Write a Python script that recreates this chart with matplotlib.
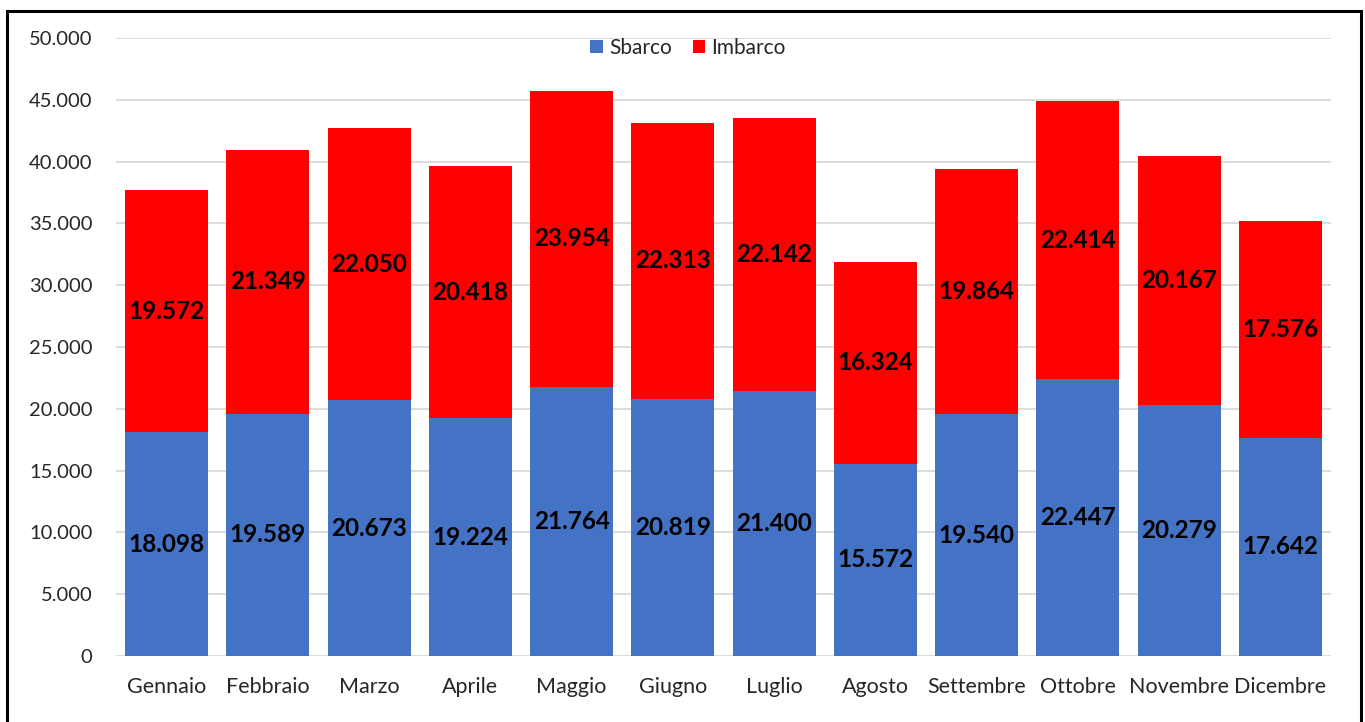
import matplotlib.pyplot as plt
import numpy as np
from matplotlib.patches import Rectangle
from matplotlib.ticker import FuncFormatter

plt.rcParams['font.family'] = ['Lato', 'DejaVu Sans']

mesi = ["Gennaio", "Febbraio", "Marzo", "Aprile", "Maggio", "Giugno",
        "Luglio", "Agosto", "Settembre", "Ottobre", "Novembre", "Dicembre"]
sbarco = [18098, 19589, 20673, 19224, 21764, 20819, 21400, 15572, 19540, 22447, 20279, 17642]
imbarco = [19572, 21349, 22050, 20418, 23954, 22313, 22142, 16324, 19864, 22414, 20167, 17576]


def fmt(v):
    # italian thousands separator
    return f"{int(v):,}".replace(",", ".")


fig = plt.figure(figsize=(13.65, 7.22), dpi=100)
ax = fig.add_axes([0.085, 0.0914, 0.89, 0.856])

x = np.arange(len(mesi))
ax.bar(x, sbarco, width=0.82, color="#4472C4", label="Sbarco", zorder=2)
ax.bar(x, imbarco, width=0.82, bottom=sbarco, color="#FF0000", label="Imbarco", zorder=2)

for i in range(len(mesi)):
    ax.text(x[i], sbarco[i] / 2, fmt(sbarco[i]), ha="center", va="center",
            fontsize=17.5, fontweight="bold", color="black", zorder=3)
    ax.text(x[i], sbarco[i] + imbarco[i] / 2, fmt(imbarco[i]), ha="center", va="center",
            fontsize=17.5, fontweight="bold", color="black", zorder=3)

ax.set_xlim(-0.5, len(mesi) - 0.5)
ax.set_ylim(0, 50000)
ax.set_yticks(np.arange(0, 50001, 5000))
ax.yaxis.set_major_formatter(FuncFormatter(lambda v, p: fmt(v)))
ax.set_xticks(x)
ax.set_xticklabels(mesi)
ax.tick_params(axis="both", length=0, colors="#262626")
ax.tick_params(axis="x", pad=15, labelsize=15.5)
ax.tick_params(axis="y", pad=17, labelsize=14.5)
ax.grid(axis="y", color="#D9D9D9", linewidth=1.3, zorder=0)
for s in ax.spines.values():
    s.set_visible(False)

ax.legend(loc="upper center", bbox_to_anchor=(0.471, 1.03), ncol=2, frameon=False,
          fontsize=15, handlelength=0.6, handleheight=0.6, handletextpad=0.3,
          columnspacing=1.0, labelcolor="#262626")

# black frame around the chart
fig.patches.append(Rectangle((6.5 / 1365, -0.01), 1354.5 / 1365, 1 - 10.5 / 722 + 0.01,
                             transform=fig.transFigure, fill=False, edgecolor="black",
                             linewidth=2.2))

plt.savefig("out.png", dpi=100)
